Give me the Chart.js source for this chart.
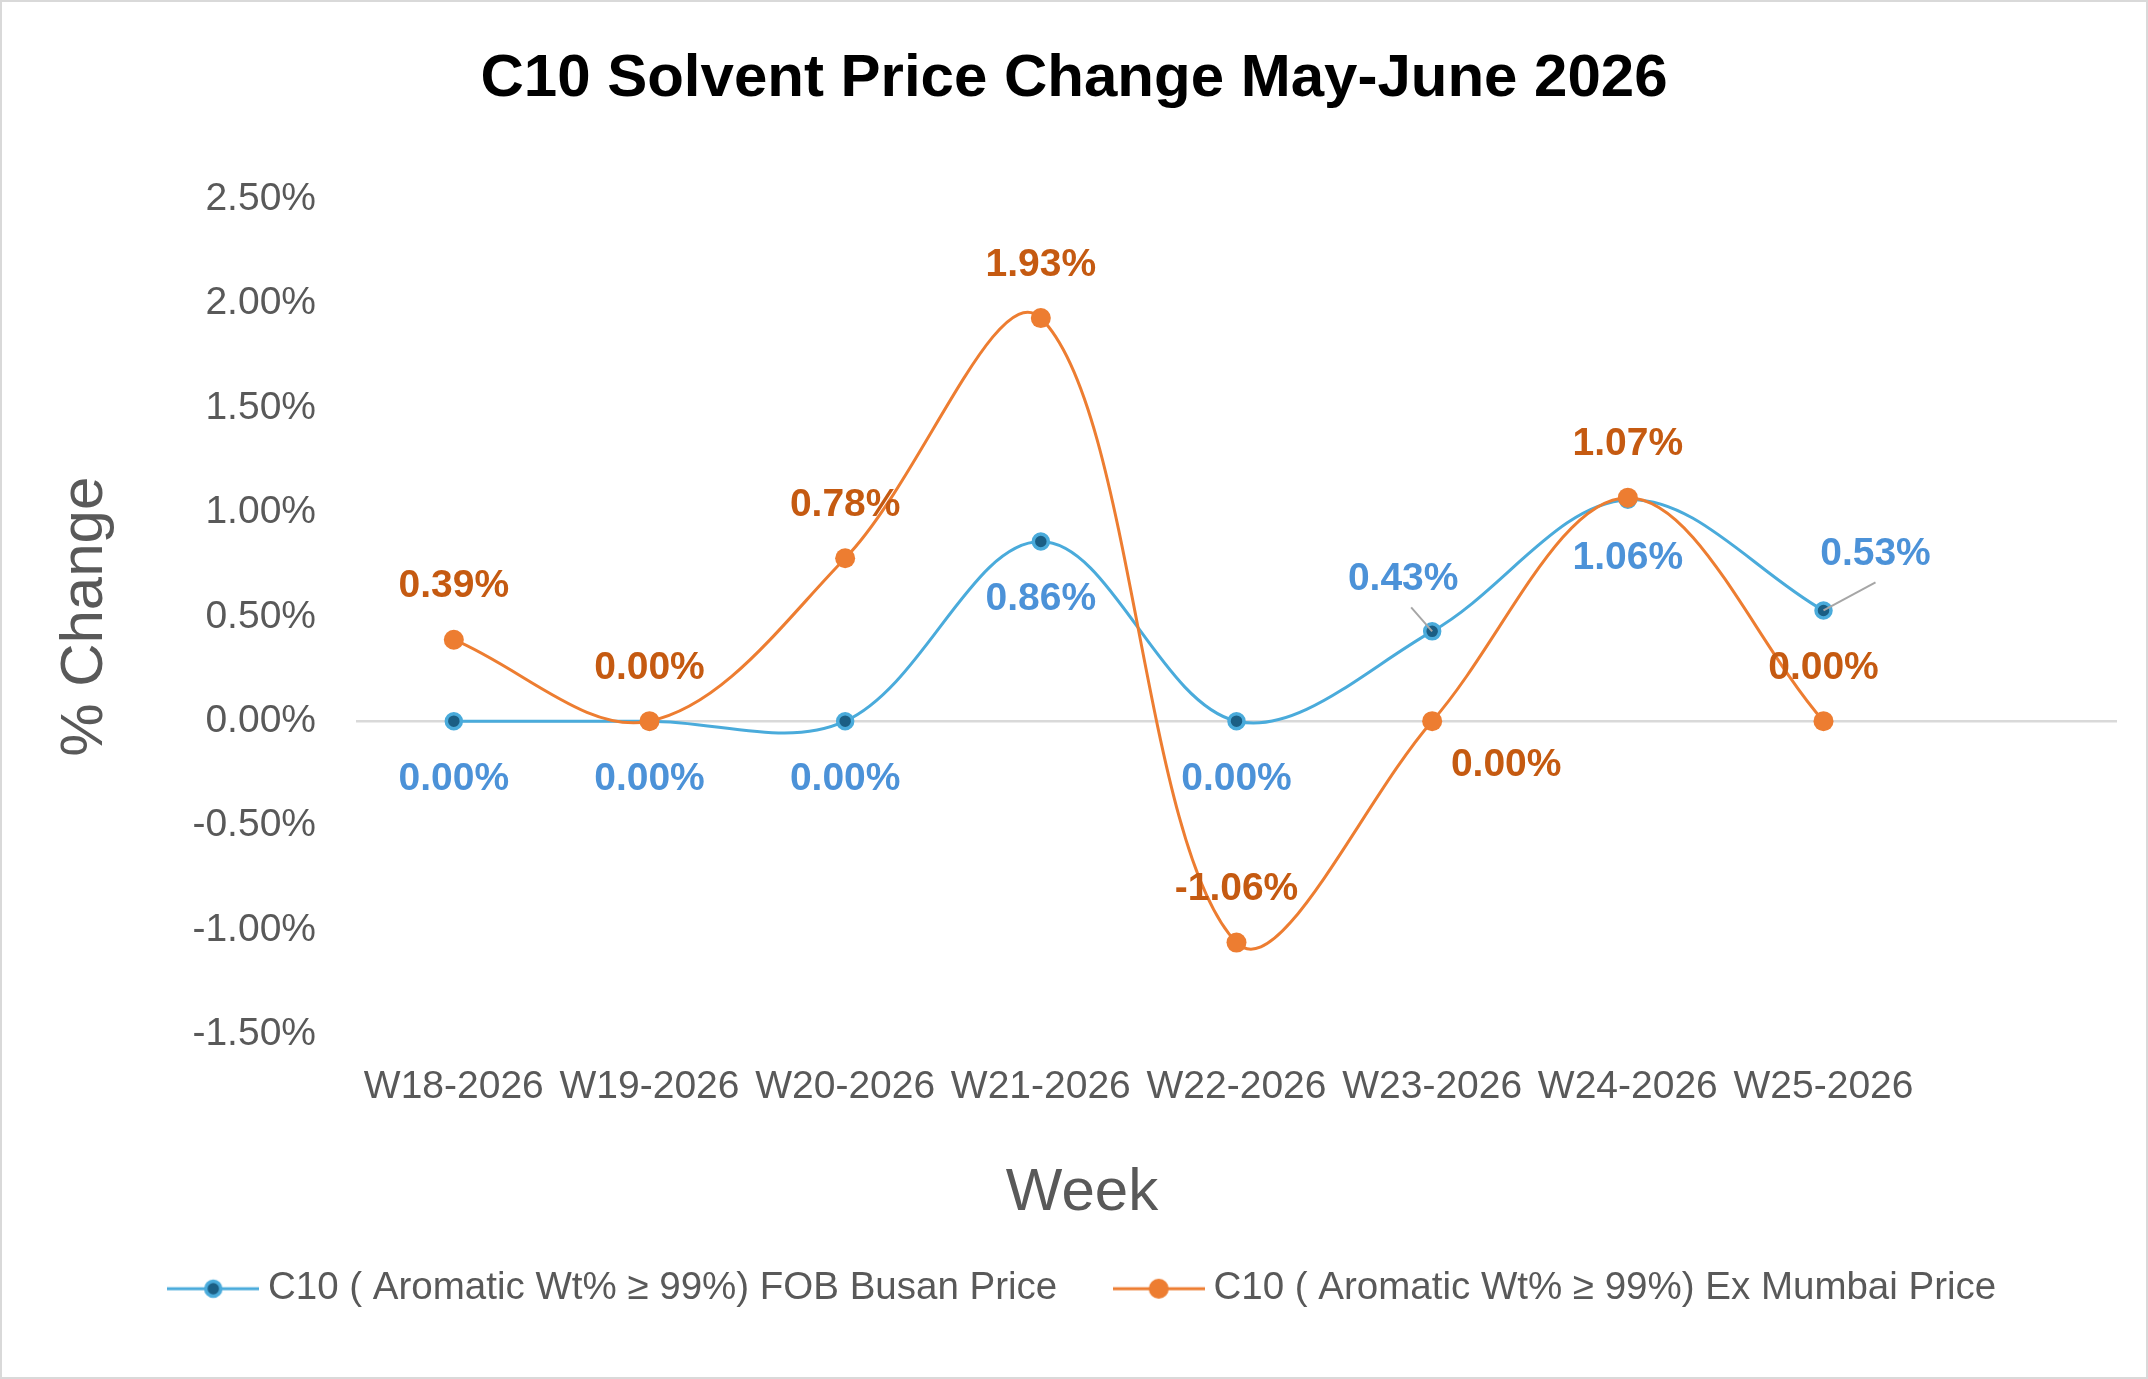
<!DOCTYPE html>
<html>
<head>
<meta charset="utf-8">
<title>C10 Solvent Price Change May-June 2026</title>
<script src="https://cdn.jsdelivr.net/npm/chart.js@4.4.1/dist/chart.umd.min.js"></script>
<style>
    html, body { margin: 0; padding: 0; background: #ffffff; }
    canvas { display: block; }
</style>
</head>
<body>
<canvas id="chartPriceChange" width="2148" height="1379"></canvas>
<script>
// week labels (last slot is left empty, as in the original sheet)
const weeks = ['W18-2026', 'W19-2026', 'W20-2026', 'W21-2026', 'W22-2026', 'W23-2026', 'W24-2026', 'W25-2026', ''];

// % change per week
const busanChange = [0.00, 0.00, 0.00, 0.86, 0.00, 0.43, 1.06, 0.53];
const mumbaiChange = [0.39, 0.00, 0.78, 1.93, -1.06, 0.00, 1.07, 0.00];

const seriesNames = [
    'C10 ( Aromatic Wt% \u2265 99%) FOB Busan Price',
    'C10 ( Aromatic Wt% \u2265 99%) Ex Mumbai Price'
];

// y axis range / step (in %)
const yMin = -1.5;
const yMax = 2.5;
const yStep = 0.5;

// label placement relative to each point: [dx, dy, leaderLine]
const busanLabelPos = [[0, 58], [0, 58], [0, 58], [0, 58], [0, 58], [-29, -52, true], [0, 58], [52, -56, true]];
const mumbaiLabelPos = [[0, -53], [0, -53], [0, -53], [0, -53], [0, -53], [74, 44], [0, -53], [0, -53]];

const textGrey = '#595959';
const blueLine = '#4AABDB';
const blueDot = '#1B5E84';
const blueText = '#4C92D8';
const orangeLine = '#ED7D31';
const orangeText = '#C55A11';
const fontFamily = '"Liberation Sans", Arial, sans-serif';

// little "line with marker" picture for the legend
function legendMarker(lineColor, fill, border, r) {
    const c = document.createElement('canvas');
    c.width = 92;
    c.height = 28;
    const g = c.getContext('2d');
    g.strokeStyle = lineColor;
    g.lineWidth = 3;
    g.beginPath();
    g.moveTo(0, 14);
    g.lineTo(92, 14);
    g.stroke();
    g.beginPath();
    g.arc(46, 14, r, 0, Math.PI * 2);
    g.fillStyle = fill;
    g.fill();
    if (border) {
        g.lineWidth = 3.5;
        g.strokeStyle = border;
        g.stroke();
    }
    return c;
}
const legendMarkers = [
    legendMarker(blueLine, blueDot, blueLine, 7.5),
    legendMarker(orangeLine, orangeLine, null, 10)
];

// value labels next to the points
const pointLabels = {
    id: 'pointLabels',
    afterDatasetsDraw(chart) {
        const ctx = chart.ctx;
        const positions = [busanLabelPos, mumbaiLabelPos];
        const colors = [blueText, orangeText];
        ctx.save();
        ctx.font = 'bold 39px ' + fontFamily;
        ctx.textAlign = 'center';
        ctx.textBaseline = 'middle';
        chart.data.datasets.forEach((ds, i) => {
            const meta = chart.getDatasetMeta(i);
            meta.data.forEach((pt, j) => {
                const v = ds.data[j];
                if (v === null || v === undefined) return;
                const pos = positions[i][j];
                const lx = pt.x + pos[0];
                const ly = pt.y + pos[1];
                if (pos[2]) {
                    ctx.strokeStyle = '#A6A6A6';
                    ctx.lineWidth = 2;
                    ctx.beginPath();
                    ctx.moveTo(pt.x, pt.y);
                    ctx.lineTo(lx + (pos[0] < 0 ? 8 : 0), ly + 28);
                    ctx.stroke();
                }
                ctx.fillStyle = colors[i];
                ctx.fillText(v.toFixed(2) + '%', lx, ly);
            });
        });
        ctx.restore();
    }
};

// x axis title, centred on the whole picture like the original
const weekTitle = {
    id: 'weekTitle',
    afterDraw(chart) {
        const ctx = chart.ctx;
        ctx.save();
        ctx.font = '60px ' + fontFamily;
        ctx.fillStyle = textGrey;
        ctx.textAlign = 'center';
        ctx.textBaseline = 'middle';
        ctx.fillText('Week', 1082, 1193);
        ctx.restore();
    }
};

// legend sits a little right of the plot centre in the original
const legendNudge = {
    id: 'legendNudge',
    afterLayout(chart) {
        chart.legend.left += 13;
        chart.legend.right += 13;
    }
};

// thin frame round the chart
const chartFrame = {
    id: 'chartFrame',
    afterDraw(chart) {
        const ctx = chart.ctx;
        ctx.save();
        ctx.strokeStyle = '#D9D9D9';
        ctx.lineWidth = 2;
        ctx.strokeRect(1, 1, chart.width - 2, chart.height - 2);
        ctx.restore();
    }
};

function loadChart() {
    const ctx = document.getElementById('chartPriceChange');

    new Chart(ctx, {
        type: 'line',
        data: {
            labels: weeks,
            datasets: [{
                label: seriesNames[0],
                data: busanChange,
                borderColor: blueLine,
                borderWidth: 3,
                pointBackgroundColor: blueDot,
                pointBorderColor: blueLine,
                pointBorderWidth: 3.5,
                pointRadius: 7.5,
                tension: 0.35,
                order: 1
            }, {
                label: seriesNames[1],
                data: mumbaiChange,
                borderColor: orangeLine,
                borderWidth: 3,
                pointBackgroundColor: orangeLine,
                pointBorderColor: orangeLine,
                pointBorderWidth: 0,
                pointRadius: 10,
                tension: 0.35,
                order: 0
            }]
        },
        options: {
            responsive: false,
            animation: false,
            layout: {
                padding: { left: 31, right: 31, top: 0, bottom: 61 }
            },
            plugins: {
                title: {
                    display: true,
                    text: 'C10 Solvent Price Change May-June 2026',
                    color: '#000000',
                    font: { family: fontFamily, size: 60, weight: 'bold' },
                    padding: { top: 43, bottom: 84 }
                },
                legend: {
                    position: 'bottom',
                    labels: {
                        usePointStyle: true,
                        pointStyleWidth: 71,
                        padding: 66,
                        color: textGrey,
                        font: { family: fontFamily, size: 38.5 },
                        generateLabels(chart) {
                            return chart.data.datasets.map((ds, i) => ({
                                text: ds.label,
                                pointStyle: legendMarkers[i],
                                fontColor: textGrey,
                                fillStyle: 'transparent',
                                strokeStyle: 'transparent',
                                lineWidth: 0,
                                hidden: false,
                                datasetIndex: i
                            }));
                        }
                    }
                },
                tooltip: { enabled: false }
            },
            scales: {
                x: {
                    offset: true,
                    grid: { display: false, drawTicks: false },
                    border: { display: false },
                    ticks: {
                        color: textGrey,
                        font: { family: fontFamily, size: 39 },
                        padding: 29,
                        autoSkip: false,
                        maxRotation: 0,
                        minRotation: 0
                    },
                    afterFit(scale) { scale.height = 169; }
                },
                y: {
                    min: yMin,
                    max: yMax,
                    grid: {
                        drawTicks: false,
                        lineWidth: 2.5,
                        color: (c) => (c.tick && c.tick.value === 0 ? '#D9D9D9' : 'transparent')
                    },
                    border: { display: false },
                    ticks: {
                        stepSize: yStep,
                        padding: 40,
                        color: textGrey,
                        font: { family: fontFamily, size: 39 },
                        callback: (v) => v.toFixed(2) + '%'
                    },
                    title: {
                        display: true,
                        text: '% Change',
                        color: textGrey,
                        font: { family: fontFamily, size: 60 },
                        padding: { top: 18, bottom: 0 }
                    },
                    afterFit(scale) { scale.width = 325; }
                }
            }
        },
        plugins: [pointLabels, weekTitle, legendNudge, chartFrame]
    });
}

loadChart();
</script>
</body>
</html>
